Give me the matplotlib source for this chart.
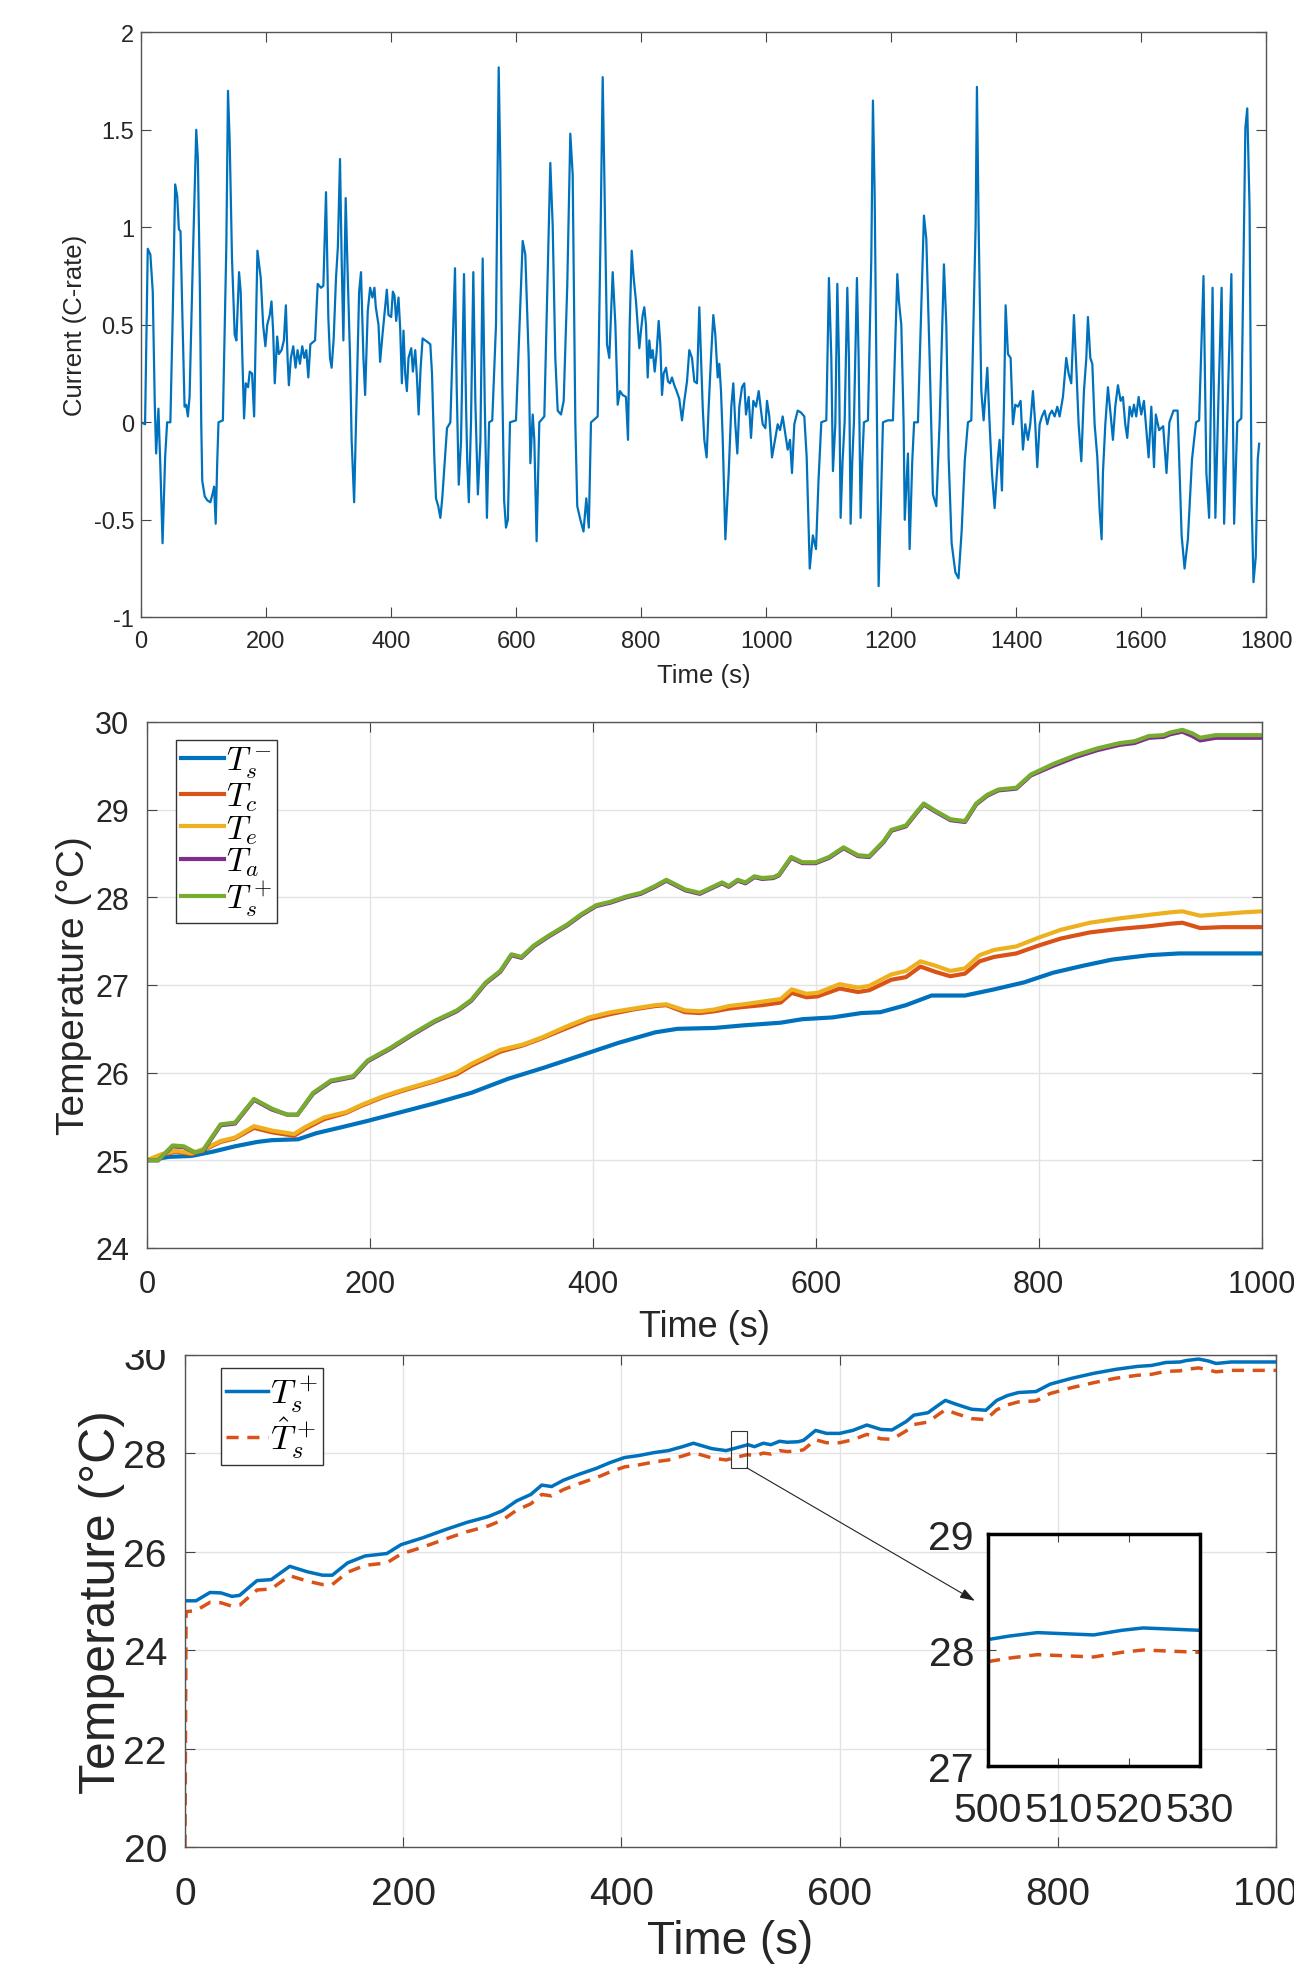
import numpy as np
import matplotlib
matplotlib.use('Agg')
import matplotlib.pyplot as plt
from matplotlib.patches import Rectangle
from matplotlib.ticker import FuncFormatter

W, H = 1294, 1965
plt.rcParams['font.family'] = ['Liberation Sans', 'DejaVu Sans']
plt.rcParams['mathtext.fontset'] = 'cm'
plt.rcParams['axes.unicode_minus'] = False

# ---- panel 1: current profile (C-rate), (time s, value) ----
current_pts = [
    (0, 0), (6.5, -0.01), (10.8, 0.89), (15, 0.86), (18.8, 0.67), (22, 0.1), (24.2, -0.16), (27.9, 0.07),
    (31, -0.23), (34.5, -0.62), (38.6, -0.18), (41.8, 0), (47, 0),
    (51, 0.59), (54.7, 1.22), (57.9, 1.16), (60.6, 0.99), (63.2, 0.98), (65.9, 0.59), (69.7, 0.08),
    (72.3, 0.09), (75, 0.03), (77.7, 0.13),
    (83, 0.84), (88.4, 1.50), (91, 1.35), (94.3, 0.67), (96.4, -0.01), (98, -0.30), (102, -0.38),
    (106, -0.40), (111, -0.41), (115, -0.36), (117, -0.33), (119.5, -0.52), (122, -0.2), (124, 0), (131, 0.01),
    (136.5, 0.9), (139.2, 1.70), (141.9, 1.44), (145.6, 0.84), (149.9, 0.45), (152.6, 0.42), (156.9, 0.77),
    (159.5, 0.67), (162.2, 0.33), (164.9, 0.02), (167.6, 0.2), (171.3, 0.18), (174, 0.26), (177.7, 0.25), (181, 0.03),
    (186.3, 0.88), (191.6, 0.74), (195.4, 0.50), (199, 0.39), (202, 0.50), (206, 0.55), (208.8, 0.62),
    (211.4, 0.47), (214, 0.20), (217.9, 0.44), (220.5, 0.35), (224.9, 0.37), (228.6, 0.42), (231.8, 0.60),
    (234.5, 0.33), (236.6, 0.19), (239.8, 0.33), (243.6, 0.39), (247.3, 0.28), (250.5, 0.37), (254.3, 0.30),
    (258, 0.39), (261.3, 0.33), (264.5, 0.37), (267.7, 0.23), (271, 0.40), (274.7, 0.41), (278.5, 0.42),
    (282.7, 0.71), (288, 0.69), (291.8, 0.70), (296, 1.18), (299.7, 0.54), (302.4, 0.33), (305, 0.28),
    (308.3, 0.43), (312, 0.74), (315, 0.9), (318.4, 1.35), (321, 0.84), (323.8, 0.42), (327.5, 1.15),
    (330.7, 0.76), (334.5, 0.33), (337, -0.09), (341, -0.41), (345.2, 0.16), (349, 0.67), (352, 0.77),
    (355.9, 0.33), (358.6, 0.14), (362.8, 0.57), (366.6, 0.69), (370.3, 0.64), (373.5, 0.69), (375.7, 0.59),
    (380, 0.50), (382.6, 0.31), (386.4, 0.45), (390.6, 0.59), (393.3, 0.68), (396, 0.55), (400.3, 0.54),
    (403, 0.67), (405.6, 0.65), (408.3, 0.52), (412, 0.64), (414.7, 0.48), (417.4, 0.20), (420, 0.47),
    (422.7, 0.25), (425.4, 0.16), (428, 0.33), (432.4, 0.38), (435, 0.26), (438.8, 0.37), (441.5, 0.23),
    (444.2, 0.04), (447.4, 0.28), (450.6, 0.43), (454.9, 0.42), (459.1, 0.41), (462.9, 0.40), (465.6, 0.25),
    (469.3, -0.18), (472, -0.39), (475.6, -0.43), (479, -0.49), (482, -0.39), (486, -0.2), (489.6, -0.03), (495, 0),
    (502.4, 0.79), (505, 0.2), (508.4, -0.32), (512, -0.1), (516.8, 0.76), (520, 0.1), (522, -0.2),
    (524.5, -0.41), (528, 0), (531.7, 0.77), (535, 0.1), (539, -0.37), (543, -0.1), (546.7, 0.84),
    (550, 0.1), (553.5, -0.49), (557, 0), (562, 0.01),
    (568, 0.5), (572.3, 1.82), (575, 1.3), (578, 0.2), (581, -0.4), (584, -0.54), (587, -0.5), (590.4, 0), (600, 0.01),
    (610.7, 0.93), (614.9, 0.86), (620.3, 0.33), (623, -0.21), (626.7, 0.04), (629.3, -0.09), (633, -0.61),
    (637.3, 0), (645.3, 0.03),
    (651, 0.8), (654.9, 1.33), (658.7, 1.01), (662.9, 0.33), (666.7, 0.06), (672, 0.04), (676.3, 0.11),
    (682, 0.7), (686.9, 1.48), (690.7, 1.27), (694.9, 0), (698, -0.43), (703, -0.5), (708, -0.56),
    (712.5, -0.39), (716.5, -0.54), (720, 0), (723.7, 0.01), (730.7, 0.03),
    (735, 0.9), (738.7, 1.77), (741.3, 1.27), (745.6, 0.40), (749.3, 0.33), (754.7, 0.77), (759, 0.50),
    (762.7, 0.09), (766.4, 0.16), (770.7, 0.14), (776, 0.13), (779.2, -0.09), (781.9, 0.50), (785.1, 0.88),
    (788.3, 0.74), (792, 0.62), (794.7, 0.50), (797.3, 0.38), (800, 0.47), (802.7, 0.55), (805.3, 0.59),
    (808, 0.50), (810.7, 0.23), (813.3, 0.42), (816, 0.33), (818.7, 0.37), (821.9, 0.26), (825, 0.36),
    (828.3, 0.52), (830.9, 0.40), (833.6, 0.14), (836.3, 0.25), (840, 0.28), (843.2, 0.21), (846.4, 0.20),
    (849.6, 0.23), (853.3, 0.19), (857, 0.16), (861.3, 0.12), (865.6, 0.01), (869.3, 0.11), (873.6, 0.21),
    (877.3, 0.37), (881.6, 0.33), (885.3, 0.21), (889.6, 0.20), (893.3, 0.59), (896, 0.33), (898.7, 0.08),
    (901.3, -0.09), (905, -0.18), (908.3, 0.08), (912, 0.33), (915.7, 0.55), (918.9, 0.45), (922.7, 0.23),
    (925.3, 0.30), (928, 0.16), (930.7, -0.08), (935, -0.6), (940.3, -0.26), (944.5, 0.08), (947.7, 0.20),
    (950.9, -0.01), (954.1, -0.16), (957.3, 0.08), (961.6, 0.18), (965.3, 0.20), (968, 0.04), (972.3, 0.13),
    (976, -0.08), (979.7, 0.11), (984, 0.08), (988.3, 0.16), (992, 0.06), (994.7, -0.01), (999, -0.03),
    (1001.6, 0.11), (1005.3, 0.03), (1009.6, -0.18), (1013.3, -0.11), (1018.7, -0.01), (1022.4, -0.04),
    (1026.7, 0.03), (1031, -0.06), (1034.7, -0.14), (1038.4, -0.09), (1041.6, -0.26), (1045.3, -0.01),
    (1050.7, 0.06), (1056, 0.05), (1061.3, 0.03), (1065.1, -0.18),
    (1070, -0.75), (1075, -0.58), (1080, -0.65), (1084, -0.3), (1088.5, 0), (1096.5, 0.01),
    (1100.7, 0.74), (1104.5, 0.33), (1107.1, -0.25), (1110.9, -0.01), (1114.1, 0.71), (1116.7, 0.33),
    (1119.4, -0.49), (1122.5, -0.2), (1125.8, 0), (1130.1, 0.69), (1132.7, 0.33), (1135.4, -0.52),
    (1138, -0.2), (1140.7, 0), (1145.5, 0.74), (1148.2, 0.33), (1151.4, -0.49), (1154, -0.2), (1156.7, 0), (1163.1, 0.01),
    (1168.5, 0.84), (1171.1, 1.65), (1173.8, 1.18), (1176.5, 0.33), (1180.2, -0.84), (1184, -0.4),
    (1187.1, 0), (1195.1, 0.01), (1203.1, 0.01),
    (1210.1, 0.76), (1212.7, 0.62), (1216.5, 0.50), (1220.2, -0.01), (1222, -0.5), (1224.5, -0.33),
    (1227.1, -0.16), (1229.8, -0.65), (1234, -0.2), (1237, 0), (1243.1, 0),
    (1248.5, 0.59), (1252.7, 1.06), (1256.5, 0.94), (1261.8, 0.33), (1267.1, -0.37), (1272.5, -0.43), (1277.8, 0),
    (1284.7, 0.81), (1288.5, 0.50), (1292.2, -0.18), (1297, -0.62), (1303, -0.77), (1308, -0.80),
    (1313, -0.56), (1318, -0.2), (1323.1, 0), (1328.5, 0.01),
    (1335.4, 1.01), (1337.5, 1.72), (1340.2, 1.01), (1344.5, 0.16), (1348.2, 0.01), (1354.1, 0.28),
    (1357.8, -0.01), (1361.5, -0.26), (1365.8, -0.44), (1371.1, -0.18), (1373.8, -0.09), (1377.5, -0.35),
    (1380.7, 0.08), (1383.4, 0.60), (1387.1, 0.35), (1391.4, 0.33), (1395.1, -0.01), (1398.9, 0.09),
    (1403.1, 0.08), (1407.4, 0.11), (1411.1, -0.14), (1414.8, -0.01), (1419.1, -0.09), (1422.8, -0.01),
    (1427.1, 0.16), (1430.8, -0.01), (1434, -0.23), (1437.8, -0.01), (1441.5, 0.03), (1445.8, 0.06),
    (1450.1, -0.01), (1453.8, 0.04), (1457.5, 0.06), (1461.8, 0.03), (1466.1, 0.08), (1469.8, 0.03),
    (1475.1, 0.13), (1480.4, 0.33), (1484.2, 0.25), (1488.4, 0.20), (1492.7, 0.55), (1496.5, 0.28),
    (1500.2, -0.01), (1504.5, -0.2), (1508.7, 0.16), (1512.5, 0.33), (1515.1, 0.54), (1518.9, 0.33),
    (1522.1, 0.30), (1525.8, -0.01), (1530.1, -0.18), (1533.8, -0.45), (1537, -0.60), (1539.1, -0.26),
    (1542.9, -0.01), (1547.1, 0.18), (1551.4, 0.04), (1555.1, -0.09), (1558.8, 0.08), (1563.1, 0.19),
    (1567.4, 0.11), (1571.1, 0.13), (1574.8, -0.01), (1578, -0.08), (1581.8, 0.08), (1585.5, 0.03),
    (1588.7, 0.09), (1592.4, 0.03), (1596.2, 0.13), (1600.4, 0.04), (1604.7, 0.11), (1608.5, -0.04),
    (1612.2, -0.18), (1616.5, 0.08), (1620.8, -0.23), (1623.7, 0.04), (1629, -0.04), (1635.5, -0.02),
    (1640.8, -0.26), (1645.4, 0), (1652, 0.06), (1658.6, 0.06),
    (1665, -0.58), (1669.7, -0.75), (1675, -0.60), (1681.6, -0.19), (1688, 0), (1693, 0.01),
    (1700, 0.75), (1704.6, -0.26), (1709, -0.49), (1714.5, 0.69), (1719, -0.49), (1724, 0.13), (1729, 0.69),
    (1733, -0.52), (1739, 0.13), (1744.6, 0.76), (1749, -0.52), (1754, 0), (1760.5, 0.02),
    (1767, 1.51), (1770, 1.61), (1773.7, 1.10), (1777, -0.41), (1780, -0.82), (1783.6, -0.69),
    (1786.8, -0.19), (1789, -0.11),
]
current_t = [p[0] for p in current_pts]
current_v = [p[1] for p in current_pts]

# ---- panel 2: temperatures ----
cold_t = [0, 20, 40, 59.5, 79, 99, 112, 135.5, 152, 172, 198, 225, 258, 291, 324, 357, 390, 423, 456, 476,
          509, 535.5, 568.6, 588, 615, 641, 658, 681, 704, 734, 760, 787, 813, 840, 866, 899, 926, 1000]
Ts_minus = [25.0, 25.04, 25.05, 25.10, 25.16, 25.21, 25.23, 25.24, 25.31, 25.37, 25.45, 25.54, 25.65, 25.77,
            25.93, 26.06, 26.20, 26.34, 26.46, 26.50, 26.51, 26.54, 26.57, 26.61, 26.63, 26.68, 26.69, 26.77,
            26.88, 26.88, 26.95, 27.03, 27.14, 27.22, 27.29, 27.34, 27.36, 27.36]

mid_t = [0, 13, 26, 40, 53, 66, 79, 96, 112, 132, 142, 159, 178.5, 192, 211.6, 231, 258, 277.7, 291, 304,
         317, 337, 354, 377, 396.7, 416.5, 436, 456, 466, 482.6, 496, 509, 522, 535.5, 552, 568.6, 578.5,
         591.7, 601.6, 621.5, 638, 648, 667.8, 681, 694, 707.4, 720.7, 734, 747, 760, 780, 800, 820, 846,
         872.7, 899, 919, 929, 945, 965, 985, 1000]
Tc = [25.0, 25.06, 25.10, 25.07, 25.13, 25.21, 25.25, 25.37, 25.32, 25.28, 25.36, 25.47, 25.54, 25.62, 25.72,
      25.80, 25.90, 25.98, 26.08, 26.16, 26.24, 26.31, 26.39, 26.51, 26.61, 26.67, 26.72, 26.76, 26.77, 26.69,
      26.68, 26.70, 26.73, 26.75, 26.77, 26.80, 26.91, 26.86, 26.87, 26.96, 26.92, 26.94, 27.06, 27.09, 27.21,
      27.15, 27.10, 27.13, 27.27, 27.32, 27.36, 27.45, 27.53, 27.60, 27.64, 27.67, 27.70, 27.71, 27.65, 27.66,
      27.66, 27.66]
Te = [25.0, 25.07, 25.11, 25.08, 25.14, 25.22, 25.26, 25.39, 25.34, 25.30, 25.38, 25.49, 25.55, 25.63, 25.73,
      25.81, 25.91, 26.00, 26.10, 26.18, 26.26, 26.32, 26.40, 26.53, 26.63, 26.69, 26.73, 26.77, 26.78, 26.71,
      26.70, 26.72, 26.76, 26.78, 26.81, 26.84, 26.95, 26.90, 26.91, 27.01, 26.97, 26.99, 27.12, 27.16, 27.27,
      27.22, 27.16, 27.19, 27.34, 27.40, 27.44, 27.54, 27.63, 27.71, 27.76, 27.80, 27.83, 27.84, 27.79, 27.81,
      27.83, 27.84]

hot_t = [0, 10, 23, 33, 43, 50, 66, 79, 96, 112, 126, 135, 149, 165, 185, 198, 218, 238, 258, 278, 291, 304,
         317, 327, 336, 347, 360, 377, 390, 403, 416, 430, 443, 456, 466, 483, 496, 506, 516, 522, 530, 537,
         545, 552, 562, 567, 578, 588, 600, 612, 625, 638, 648, 661, 668, 681, 691, 697, 707, 721, 734, 744,
         754, 764, 780, 793, 813, 833, 853, 873, 886, 899, 912, 918, 929, 938, 945, 959, 980, 1000]
Ta = [25.0, 25.0, 25.16, 25.15, 25.09, 25.10, 25.40, 25.42, 25.69, 25.58, 25.52, 25.52, 25.76, 25.90, 25.95,
      26.13, 26.27, 26.43, 26.58, 26.70, 26.82, 27.02, 27.15, 27.34, 27.31, 27.44, 27.55, 27.68, 27.80, 27.90,
      27.94, 28.00, 28.04, 28.12, 28.19, 28.08, 28.04, 28.10, 28.16, 28.12, 28.19, 28.16, 28.23, 28.21, 28.22,
      28.25, 28.45, 28.39, 28.39, 28.45, 28.56, 28.47, 28.46, 28.63, 28.76, 28.81, 28.97, 29.06, 28.98, 28.88,
      28.86, 29.06, 29.16, 29.22, 29.24, 29.39, 29.50, 29.60, 29.68, 29.74, 29.76, 29.82, 29.83, 29.86, 29.89,
      29.84, 29.79, 29.82, 29.82, 29.82]
Ts_plus = [25.0, 25.0, 25.17, 25.16, 25.09, 25.11, 25.41, 25.43, 25.70, 25.59, 25.52, 25.52, 25.77, 25.91,
           25.96, 26.14, 26.28, 26.44, 26.59, 26.71, 26.83, 27.03, 27.16, 27.35, 27.32, 27.45, 27.56, 27.69,
           27.81, 27.91, 27.95, 28.01, 28.05, 28.13, 28.20, 28.09, 28.05, 28.11, 28.17, 28.13, 28.20, 28.17,
           28.24, 28.22, 28.23, 28.26, 28.46, 28.40, 28.40, 28.46, 28.57, 28.48, 28.47, 28.64, 28.77, 28.82,
           28.98, 29.07, 28.99, 28.89, 28.87, 29.07, 29.17, 29.23, 29.25, 29.40, 29.52, 29.62, 29.70, 29.76,
           29.78, 29.84, 29.85, 29.88, 29.91, 29.87, 29.82, 29.85, 29.85, 29.85]

# ---- panel 3: estimate of T_s^+ (starts from 20 C) ----
hat_t = [0, 1] + hot_t[1:]
Ts_hat = [20.0, 24.78, 24.80, 24.97, 24.96, 24.89, 24.91, 25.22, 25.24, 25.51, 25.40, 25.33, 25.33, 25.58,
          25.72, 25.77, 25.95, 26.09, 26.25, 26.40, 26.52, 26.64, 26.84, 26.97, 27.16, 27.13, 27.26, 27.37,
          27.50, 27.62, 27.72, 27.76, 27.82, 27.86, 27.94, 28.01, 27.90, 27.86, 27.92, 27.97, 27.94, 28.00,
          27.98, 28.05, 28.03, 28.04, 28.07, 28.27, 28.21, 28.21, 28.27, 28.38, 28.29, 28.28, 28.45, 28.58,
          28.63, 28.79, 28.88, 28.80, 28.70, 28.68, 28.88, 28.98, 29.04, 29.06, 29.21, 29.33, 29.43, 29.52,
          29.58, 29.60, 29.66, 29.67, 29.70, 29.73, 29.69, 29.65, 29.68, 29.68, 29.68]

# zoomed window 500-530 s
zoom_t = [500, 503, 507, 511, 515, 519, 522, 526, 530]
zoom_true = [28.09, 28.12, 28.15, 28.14, 28.13, 28.17, 28.19, 28.18, 28.17]
zoom_hat = [27.90, 27.93, 27.96, 27.95, 27.94, 27.98, 28.00, 27.99, 27.98]

BLUE, ORANGE, YELLOW, PURPLE, GREEN = '#0072BD', '#D95319', '#EDB120', '#7E2F8E', '#77AC30'
TXT = '#262626'


def rect(l, t, r, b):
    return [l / W, 1 - b / H, (r - l) / W, (b - t) / H]


def style(ax, fs, padx, pady):
    ax.tick_params(direction='in', top=True, right=True, length=7, width=0.8,
                   color='#444444', labelsize=fs, labelcolor=TXT)
    ax.tick_params(axis='x', pad=padx)
    ax.tick_params(axis='y', pad=pady)
    for s in ax.spines.values():
        s.set_color('#555555')
        s.set_linewidth(1.0)


def labels(ax, box, xl, yl, xfs, yfs, xlab_y, ylab_x):
    l, t, r, b = box
    ax.set_xlabel(xl, fontsize=xfs, color=TXT)
    ax.set_ylabel(yl, fontsize=yfs, color=TXT)
    ax.xaxis.set_label_coords(0.5, -(xlab_y - b) / (b - t))
    ax.yaxis.set_label_coords((ylab_x - l) / (r - l), 0.5)
    ax.xaxis.label.set_va('center')
    ax.yaxis.label.set_va('center')


fmt = FuncFormatter(lambda v, p: '%g' % v)
fig = plt.figure(figsize=(W / 100, H / 100), dpi=100)

# ---------- panel 1 ----------
box1 = (141, 33.3, 1266, 618.3)
ax1 = fig.add_axes(rect(*box1))
ax1.plot(current_t, current_v, color=BLUE, lw=1.6)
ax1.set_xlim(0, 1800)
ax1.set_ylim(-1, 2)
ax1.set_xticks(np.arange(0, 1801, 200))
ax1.set_yticks(np.arange(-1, 2.01, 0.5))
ax1.yaxis.set_major_formatter(fmt)
style(ax1, 17, 9, 5)
labels(ax1, box1, 'Time (s)', 'Current (C-rate)', 18.5, 18.5, 676, 75)

# ---------- panel 2 ----------
box2 = (147, 723, 1261.5, 1249)
ax2 = fig.add_axes(rect(*box2))
ax2.plot(cold_t, Ts_minus, color=BLUE, lw=3, label=r'$T_s^-$')
ax2.plot(mid_t, Tc, color=ORANGE, lw=3, label=r'$T_c$')
ax2.plot(mid_t, Te, color=YELLOW, lw=3, label=r'$T_e$')
ax2.plot(hot_t, Ta, color=PURPLE, lw=3, label=r'$T_a$')
ax2.plot(hot_t, Ts_plus, color=GREEN, lw=3, label=r'$T_s^+$')
ax2.set_xlim(0, 1000)
ax2.set_ylim(24, 30)
ax2.set_xticks(np.arange(0, 1001, 200))
ax2.set_yticks(np.arange(24, 31, 1))
ax2.grid(True, color='#e3e3e3', lw=1)
style(ax2, 22, 15, 13)
labels(ax2, box2, 'Time (s)', 'Temperature (°C)', 26, 28, 1328, 74)
ax2.legend(loc='upper left', bbox_to_anchor=(0.026, 0.966), fontsize=24, frameon=True, fancybox=False,
           edgecolor='#333333', framealpha=1, handlelength=1.3, handletextpad=0.05, labelspacing=0.0,
           borderpad=0.15, borderaxespad=0)

# ---------- panel 3 ----------
box3 = (185, 1355.6, 1276, 1848)
ax3 = fig.add_axes(rect(*box3))
ax3.plot(hot_t, Ts_plus, color=BLUE, lw=2.5, label=r'$T_s^+$')
ax3.plot(hat_t, Ts_hat, color=ORANGE, lw=2.5, ls=(0, (3.5, 2.5)), label=r'$\hat{T}_s^+$')
ax3.set_xlim(0, 1000)
ax3.set_ylim(20, 30)
ax3.set_xticks(np.arange(0, 1001, 200))
ax3.set_yticks(np.arange(20, 31, 2))
ax3.grid(True, color='#e3e3e3', lw=1)
style(ax3, 28, 21, 13)
labels(ax3, box3, 'Time (s)', 'Temperature (°C)', 33, 36, 1942, 102)
ax3.legend(loc='upper left', bbox_to_anchor=(0.033, 0.973), fontsize=25, frameon=True, fancybox=False,
           edgecolor='#333333', framealpha=1, handlelength=1.2, handletextpad=0.05, labelspacing=0.0,
           borderpad=0.15, borderaxespad=0)
ax3.add_patch(Rectangle((500, 27.7), 15, 0.75, fill=False, lw=0.8, edgecolor='#333333', zorder=5))
ax3.annotate('', xy=(724, 25.0), xytext=(515, 27.7),
             arrowprops=dict(arrowstyle='-|>,head_length=0.9,head_width=0.3', color='#222222', lw=0.8,
                             shrinkA=0, shrinkB=0), zorder=6)

# inset
axi = fig.add_axes(rect(988, 1535, 1199.5, 1767))
axi.plot(zoom_t, zoom_true, color=BLUE, lw=2.5)
axi.plot(zoom_t, zoom_hat, color=ORANGE, lw=2.5, ls=(0, (3.5, 2.5)))
axi.set_xlim(500, 530)
axi.set_ylim(27, 29)
axi.set_xticks([500, 510, 520, 530])
axi.set_yticks([27, 28, 29])
axi.tick_params(direction='in', top=True, right=True, length=6, width=0.8, labelsize=29.5,
                labelcolor=TXT, color='#444444')
axi.tick_params(axis='x', pad=18)
axi.tick_params(axis='y', pad=10)
for s in axi.spines.values():
    s.set_color('black')
    s.set_linewidth(2.5)

# the bottom panel's top edge is cut in the source image
fig.add_artist(Rectangle((0, 1 - 1351 / H), 184 / W, 20 / H, transform=fig.transFigure,
                         facecolor='white', edgecolor='none', zorder=10))

fig.savefig('out.png', dpi=100)
